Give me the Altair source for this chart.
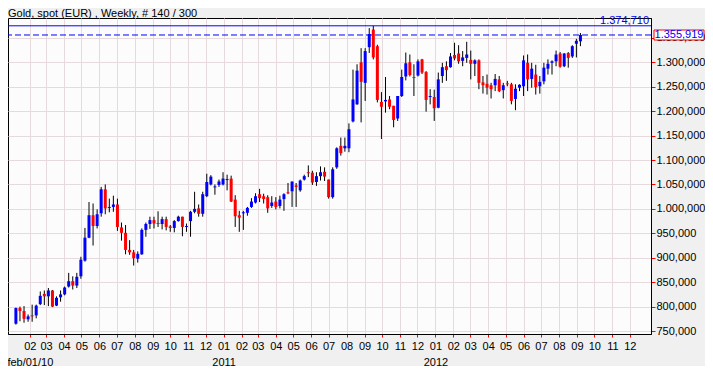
import altair as alt
import numpy as np
import pandas as pd

TITLE = "Gold, spot (EUR) , Weekly, # 140 / 300"
FONT = "Liberation Sans"
FIRST_WEEK = "2010-01-08"

OPEN = [765, 797, 791, 774, 782, 782, 805, 826, 821, 833,
        802, 819, 825, 841, 852, 843, 862, 894, 941, 987,
        965, 991, 1040, 1002, 1004, 1009, 962, 951, 916, 911,
        898, 907, 957, 969, 977, 971, 969, 979, 964, 961,
        975, 984, 963, 975, 994, 1001, 990, 1026, 1050, 1044,
        1049, 1050, 1059, 1062, 1019, 987, 991, 992, 1004, 1013,
        1030, 1026, 1024, 1006, 1015, 1006, 1020, 1034, 1036, 1048,
        1038, 1060, 1075, 1074, 1055, 1067, 1076, 1060, 1024, 1085,
        1129, 1124, 1124, 1179, 1214, 1300, 1258, 1331, 1367, 1333,
        1219, 1220, 1224, 1211, 1185, 1231, 1271, 1300, 1270, 1273,
        1306, 1280, 1229, 1229, 1207, 1272, 1292, 1290, 1315, 1318,
        1303, 1309, 1305, 1297, 1304, 1259, 1256, 1253, 1253, 1265,
        1243, 1257, 1255, 1225, 1248, 1251, 1299, 1266, 1275, 1251,
        1261, 1287, 1299, 1302, 1318, 1292, 1319, 1312, 1338, 1343]
HIGH = [798, 800, 801, 784, 804, 804, 831, 833, 838, 834,
        821, 833, 841, 869, 862, 869, 902, 961, 1014, 1011,
        999, 1045, 1050, 1021, 1027, 1021, 972, 967, 936, 916,
        913, 960, 972, 984, 984, 995, 984, 984, 967, 977,
        986, 984, 970, 996, 1035, 1009, 1035, 1072, 1069, 1050,
        1060, 1075, 1070, 1068, 1028, 996, 996, 1004, 1022, 1032,
        1041, 1031, 1028, 1026, 1024, 1027, 1032, 1053, 1056, 1053,
        1060, 1070, 1089, 1078, 1075, 1087, 1085, 1060, 1085, 1126,
        1146, 1146, 1175, 1285, 1296, 1329, 1329, 1370, 1374.71, 1336,
        1239, 1270, 1231, 1211, 1231, 1285, 1320, 1316, 1296, 1306,
        1307, 1282, 1245, 1244, 1279, 1299, 1302, 1319, 1340, 1335,
        1323, 1342, 1324, 1306, 1306, 1272, 1275, 1258, 1276, 1272,
        1258, 1262, 1258, 1255, 1255, 1314, 1316, 1299, 1295, 1272,
        1299, 1306, 1304, 1324, 1321, 1319, 1321, 1335, 1348, 1360]
LOW = [763, 770, 767, 769, 769, 776, 803, 803, 801, 799,
       801, 810, 823, 839, 835, 838, 857, 892, 940, 925,
       960, 984, 989, 993, 994, 955, 935, 907, 906, 884,
       890, 906, 943, 959, 960, 963, 958, 956, 953, 952,
       974, 944, 953, 943, 991, 984, 984, 1024, 1048, 1029,
       1045, 1048, 1038, 1014, 963, 953, 957, 986, 1002, 1011,
       1014, 1011, 992, 1002, 999, 1001, 996, 1030, 1004, 1004,
       1035, 1058, 1065, 1049, 1047, 1058, 1057, 1021, 1021, 1082,
       1109, 1117, 1116, 1177, 1213, 1177, 1221, 1319, 1306, 1218,
       1143, 1197, 1204, 1167, 1180, 1229, 1263, 1271, 1231, 1271,
       1276, 1199, 1214, 1180, 1206, 1258, 1262, 1289, 1304, 1297,
       1292, 1299, 1265, 1272, 1245, 1236, 1234, 1226, 1241, 1239,
       1226, 1251, 1214, 1202, 1241, 1231, 1241, 1248, 1234, 1236,
       1255, 1275, 1275, 1292, 1289, 1290, 1289, 1309, 1310, 1333]
CLOSE = [797, 791, 775, 780, 780, 802, 822, 821, 833, 800,
         818, 825, 839, 852, 843, 861, 896, 941, 987, 965,
         989, 1040, 1001, 1004, 1009, 963, 951, 916, 911, 899,
         908, 957, 969, 977, 970, 969, 979, 963, 961, 975,
         984, 963, 965, 994, 1000, 990, 1030, 1055, 1066, 1046,
         1056, 1062, 1061, 1015, 985, 982, 993, 1002, 1015, 1026,
         1022, 1020, 1001, 1013, 1004, 1019, 1030, 1032, 1056, 1045,
         1058, 1067, 1073, 1054, 1067, 1075, 1066, 1024, 1081, 1124,
         1114, 1129, 1163, 1224, 1283, 1260, 1323, 1358, 1310, 1223,
         1209, 1223, 1209, 1182, 1231, 1270, 1298, 1274, 1268, 1302,
         1279, 1223, 1231, 1206, 1265, 1290, 1284, 1312, 1308, 1302,
         1310, 1316, 1297, 1304, 1258, 1253, 1248, 1245, 1266, 1241,
         1253, 1255, 1221, 1246, 1254, 1304, 1265, 1287, 1249, 1260,
         1289, 1297, 1302, 1316, 1291, 1318, 1309, 1333, 1344, 1355.919]

Y_TICKS = [750, 800, 850, 900, 950, 1000, 1050, 1100, 1150, 1200, 1250, 1300, 1350]
MONTH_TICKS = ([(2010, m) for m in range(2, 13)] + [(2011, m) for m in range(1, 13)]
               + [(2012, m) for m in range(1, 13)])
YEAR_TICKS = [(2010, 2, 1), (2011, 1, 1), (2012, 1, 1)]
YEAR_LABELS = ["feb/01/10", "2011", "2012"]

GRID = "#e6dadd"
BLUE = "#0000ff"
RED = "#ff0000"


def eu(v):
    return f"{v:,.3f}".replace(",", "#").replace(".", ",").replace("#", ".")


dates = pd.date_range(FIRST_WEEK, periods=len(CLOSE), freq="7D")
df = pd.DataFrame({
    "date": dates.strftime("%Y-%m-%dT00:00:00"),
    "open": OPEN, "high": HIGH, "low": LOW, "close": CLOSE,
})
df["dir"] = np.where(df["close"] >= df["open"], "up", "down")

max_high = max(HIGH)
last_close = CLOSE[-1]
max_df = pd.DataFrame({"v": [max_high], "label": [eu(max_high)]})
last_df = pd.DataFrame({"v": [last_close], "label": [eu(last_close)]})
year_df = pd.DataFrame({"date": [f"{y:04d}-{m:02d}-{d:02d}T00:00:00" for y, m, d in YEAR_TICKS]})
title_df = pd.DataFrame({"t": [TITLE]})

xscale = alt.Scale(domain=[alt.DateTime(year=2010, month=1, date=3),
                           alt.DateTime(year=2012, month=12, date=29)])
yscale = alt.Scale(domain=[743.9, 1390.7], zero=False, nice=False)

month_axis = alt.Axis(
    orient="bottom",
    values=[alt.DateTime(year=y, month=m, date=1) for y, m in MONTH_TICKS],
    labelExpr="timeFormat(datum.value, '%m')",
    title=None, tickColor=RED, tickSize=3, labelPadding=3,
    grid=True, gridColor=GRID, gridWidth=1,
    domainColor="black", labelFont=FONT, labelFontSize=11, labelColor="black",
    labelOverlap=False, labelFlush=False, labelBound=False,
)
year_expr = "".join(
    f"year(datum.value)=={y} ? '{lab}' : " for (y, _, _), lab in zip(YEAR_TICKS, YEAR_LABELS)
) + "''"
year_axis = alt.Axis(
    orient="bottom",
    values=[alt.DateTime(year=y, month=m, date=d) for y, m, d in YEAR_TICKS],
    labelExpr=year_expr, title=None, ticks=False, domain=False, grid=False,
    labelPadding=22, labelFont=FONT, labelFontSize=11, labelColor="black",
    labelOverlap=False, labelFlush=False, labelBound=False,
)
y_axis = alt.Axis(
    orient="right", values=Y_TICKS,
    labelExpr="replace(replace(replace(format(datum.value, ',.3f'), ',', '#'), '.', ','), '#', '.')",
    title=None, tickColor=RED, tickSize=4, labelPadding=1,
    grid=True, gridColor=GRID, gridWidth=1,
    domainColor="black", labelFont=FONT, labelFontSize=11, labelColor="black",
    labelOverlap=False, labelFlush=False, labelBound=False,
)

base = alt.Chart(df)
wicks = base.mark_rule(color="black", strokeWidth=1).encode(
    x=alt.X("date:T", scale=xscale, axis=month_axis),
    y=alt.Y("low:Q", scale=yscale, axis=y_axis),
    y2="high:Q",
)
bodies = base.mark_bar(size=3).encode(
    x=alt.X("date:T", scale=xscale, axis=None),
    y=alt.Y("open:Q", scale=yscale, axis=y_axis),
    y2="close:Q",
    color=alt.Color("dir:N", scale=alt.Scale(domain=["up", "down"], range=[BLUE, RED]), legend=None),
)
year_layer = alt.Chart(year_df).mark_rule(opacity=0).encode(
    x=alt.X("date:T", scale=xscale, axis=year_axis),
)
max_rule = alt.Chart(max_df).mark_rule(color=BLUE, strokeWidth=1).encode(
    y=alt.Y("v:Q", scale=yscale, axis=y_axis))
max_text = alt.Chart(max_df).mark_text(
    align="right", baseline="alphabetic", dy=-2, color=BLUE, font=FONT, fontSize=11
).encode(x=alt.value(641), y=alt.Y("v:Q", scale=yscale, axis=y_axis), text="label:N")
last_rule = alt.Chart(last_df).mark_rule(color=BLUE, strokeWidth=1, strokeDash=[6, 3]).encode(
    y=alt.Y("v:Q", scale=yscale, axis=y_axis))
last_box = alt.Chart(last_df).mark_point(
    shape="M-2.5,-0.5H2.5V0.5H-2.5Z", size=400, filled=True, fill="white",
    stroke=RED, strokeWidth=1, opacity=1
).encode(x=alt.value(671), y=alt.Y("v:Q", scale=yscale, axis=y_axis))
last_text = alt.Chart(last_df).mark_text(
    align="center", baseline="middle", color=BLUE, font=FONT, fontSize=11
).encode(x=alt.value(671), y=alt.Y("v:Q", scale=yscale, axis=y_axis), text="label:N")
title_text = alt.Chart(title_df).mark_text(
    align="left", baseline="alphabetic", color="black", font=FONT, fontSize=11
).encode(x=alt.value(0), y=alt.value(-1.5), text="t:N")

chart = alt.layer(
    wicks, bodies, year_layer, max_rule, last_rule, max_text, last_box, last_text, title_text
).resolve_axis(x="independent").properties(
    width=643, height=316,
    autosize=alt.AutoSizeParams(type="none"),
    padding={"left": 0, "top": 10, "right": 54, "bottom": 32},
    background="#f0f0f0",
).configure_view(stroke="black", strokeWidth=1, fill="#fcfcfc")

chart.save("out.html", embed_options={"renderer": "svg", "actions": False})
